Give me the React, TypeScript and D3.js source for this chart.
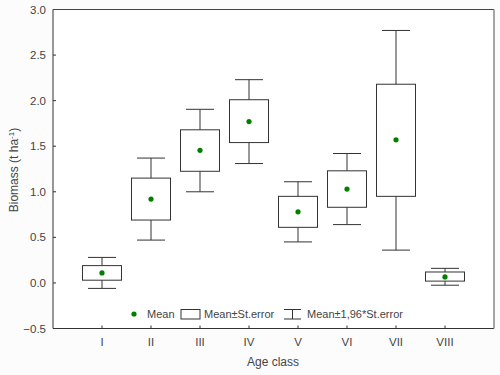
import React from "react";
import * as d3 from "d3";

const categories = ["I", "II", "III", "IV", "V", "VI", "VII", "VIII"];
const means = [0.11, 0.92, 1.455, 1.77, 0.78, 1.03, 1.57, 0.066];
const boxLow = [0.03, 0.69, 1.225, 1.54, 0.61, 0.83, 0.95, 0.02];
const boxHigh = [0.19, 1.15, 1.68, 2.01, 0.95, 1.23, 2.18, 0.12];
const whiskLow = [-0.06, 0.47, 1.0, 1.31, 0.45, 0.64, 0.36, -0.025];
const whiskHigh = [0.28, 1.37, 1.905, 2.23, 1.11, 1.42, 2.77, 0.16];
const yTicks = [-0.5, 0, 0.5, 1, 1.5, 2, 2.5, 3];

const W = 500, H = 375;
const L = 53, R = 494, T = 9.5, B = 328.5;
const font = "'Liberation Sans', Arial, sans-serif";
const textCol = "#444";

export default function App() {
  const x = d3.scaleLinear().domain([0, categories.length + 1]).range([L, R]);
  const y = d3.scaleLinear().domain([-0.5, 3]).range([B, T]);
  const boxW = 39;
  const capW = 28;
  const legY = 314;
  return (
    <svg width={W} height={H} style={{ position: "absolute", left: 0, top: 0, background: "#fcfcfc" }}
      fontFamily={font}>
      <rect x={0} y={0} width={W} height={H} fill="#fcfcfc" />
      <rect x={L} y={T} width={R - L} height={B - T} fill="#ffffff" />
      {/* y ticks */}
      {yTicks.map((t) => (
        <g key={t}>
          <line x1={L} x2={L + 3} y1={y(t)} y2={y(t)} stroke="#333" />
          <text x={46} y={y(t)} dy="0.35em" textAnchor="end" fontSize={11.5} fill={textCol}>
            {d3.format(".1f")(t)}
          </text>
        </g>
      ))}
      {/* x ticks */}
      {categories.map((c, i) => (
        <g key={c}>
          <line x1={x(i + 1)} x2={x(i + 1)} y1={B} y2={B - 3} stroke="#333" />
          <text x={x(i + 1)} y={342} dy="0.35em" textAnchor="middle" fontSize={11.5} fill={textCol}>
            {c}
          </text>
        </g>
      ))}
      {/* boxes */}
      {categories.map((c, i) => {
        const cx = x(i + 1);
        return (
          <g key={"b" + c} stroke="#333" strokeWidth={1}>
            <line x1={cx} x2={cx} y1={y(whiskHigh[i])} y2={y(boxHigh[i])} />
            <line x1={cx} x2={cx} y1={y(boxLow[i])} y2={y(whiskLow[i])} />
            <line x1={cx - capW / 2} x2={cx + capW / 2} y1={y(whiskHigh[i])} y2={y(whiskHigh[i])} />
            <line x1={cx - capW / 2} x2={cx + capW / 2} y1={y(whiskLow[i])} y2={y(whiskLow[i])} />
            <rect x={cx - boxW / 2} y={y(boxHigh[i])} width={boxW} height={y(boxLow[i]) - y(boxHigh[i])}
              fill="none" />
            <circle cx={cx} cy={y(means[i])} r={2.6} fill="#008000" stroke="none" />
          </g>
        );
      })}
      {/* legend */}
      <circle cx={134} cy={legY} r={2.6} fill="#008000" />
      <text x={147} y={legY} dy="0.35em" fontSize={11} fill={textCol}>Mean</text>
      <rect x={181} y={309.5} width={19} height={9.5} fill="none" stroke="#333" />
      <text x={204} y={legY} dy="0.35em" fontSize={11} fill={textCol}>Mean±St.error</text>
      <g stroke="#333">
        <line x1={284} x2={301} y1={309.5} y2={309.5} />
        <line x1={284} x2={301} y1={319} y2={319} />
        <line x1={292.5} x2={292.5} y1={309.5} y2={319} />
      </g>
      <text x={307} y={legY} dy="0.35em" fontSize={11} fill={textCol}>Mean±1,96*St.error</text>
      {/* frame */}
      <line x1={L} x2={R} y1={T} y2={T} stroke="#444" />
      <line x1={L} x2={L} y1={T} y2={B} stroke="#333" />
      <line x1={L} x2={R} y1={B} y2={B} stroke="#333" />
      <line x1={R} x2={R} y1={T} y2={B} stroke="#888" strokeWidth={1.5} />
      {/* titles */}
      <text x={273} y={362} dy="0.35em" textAnchor="middle" fontSize={12} fill={textCol}>Age class</text>
      <text transform={`translate(14,${170}) rotate(-90)`} textAnchor="middle" dy="0.35em" fontSize={12} fill={textCol}>
        Biomass (t ha<tspan dy="-4" fontSize={8}>-1</tspan><tspan dy="4">)</tspan>
      </text>
    </svg>
  );
}
